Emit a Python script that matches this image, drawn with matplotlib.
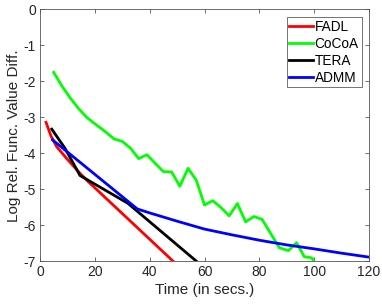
import matplotlib
matplotlib.use("Agg")
import matplotlib.pyplot as plt

plt.rcParams["font.family"] = ["Liberation Sans", "DejaVu Sans"]
plt.rcParams["axes.unicode_minus"] = False

# values
fadl_t = [2.2, 4.0, 6.1, 10.0, 14.6, 17.6, 48.5]
fadl_v = [-3.14, -3.52, -3.82, -4.17, -4.56, -4.79, -7.0]

cocoa_t = [5, 8, 11, 14, 17, 20, 23, 27, 30, 33, 36, 39, 42, 45, 48, 51, 54,
           57, 60, 63, 66, 69, 72, 75, 78, 81, 87.3, 90.6, 93.6, 96.4, 99.1, 100.3]
cocoa_v = [-1.75, -2.13, -2.46, -2.75, -3.0, -3.18, -3.35, -3.60, -3.67, -3.86,
           -4.15, -4.04, -4.28, -4.51, -4.52, -4.92, -4.42, -4.75, -5.44, -5.32,
           -5.51, -5.74, -5.40, -5.91, -5.76, -5.84, -6.63, -6.71, -6.49, -6.88,
           -6.91, -7.05]

tera_t = [4.3, 9.1, 14.6, 32.0, 57.3]
tera_v = [-3.33, -3.86, -4.62, -5.39, -7.02]

admm_t = [4.6, 35.5, 40, 50, 60, 70, 80, 90, 100, 110, 120]
admm_v = [-3.63, -5.55, -5.66, -5.89, -6.11, -6.27, -6.42, -6.55, -6.66, -6.78, -6.89]

series = [
    ("FADL", fadl_t, fadl_v, "#ff0000"),
    ("CoCoA", cocoa_t, cocoa_v, "#00ff00"),
    ("TERA", tera_t, tera_v, "#000000"),
    ("ADMM", admm_t, admm_v, "#0000ff"),
]

fig = plt.figure(figsize=(3.82, 3.05), dpi=100)
ax = fig.add_axes([0.1047, 0.144, 0.8613, 0.825])

for name, t, v, c in series:
    ax.plot(t, v, color=c, linewidth=2.0, label=name)

ax.set_xlim(0, 120)
ax.set_ylim(-7, 0)
ax.set_xticks([0, 20, 40, 60, 80, 100, 120])
ax.set_yticks([0, -1, -2, -3, -4, -5, -6, -7])

ax.tick_params(direction="in", length=3, width=0.6, colors="#555555",
               labelcolor="#262626", labelsize=10, top=True, right=True, pad=3)
for sp in ax.spines.values():
    sp.set_color("#555555")
    sp.set_linewidth(0.6)

ax.set_xlabel("Time (in secs.)", fontsize=11, color="#262626", labelpad=3)
ax.set_ylabel("Log Rel. Func. Value Diff.", fontsize=11, color="#262626", labelpad=2)

leg = ax.legend(loc="upper right", fontsize=9.8, frameon=True, fancybox=False,
                edgecolor="#333333", borderpad=0.2, handlelength=1.75,
                handletextpad=0.1, labelspacing=0.22, borderaxespad=0.55)
leg.get_frame().set_linewidth(0.6)

fig.savefig("out.png", dpi=100)
